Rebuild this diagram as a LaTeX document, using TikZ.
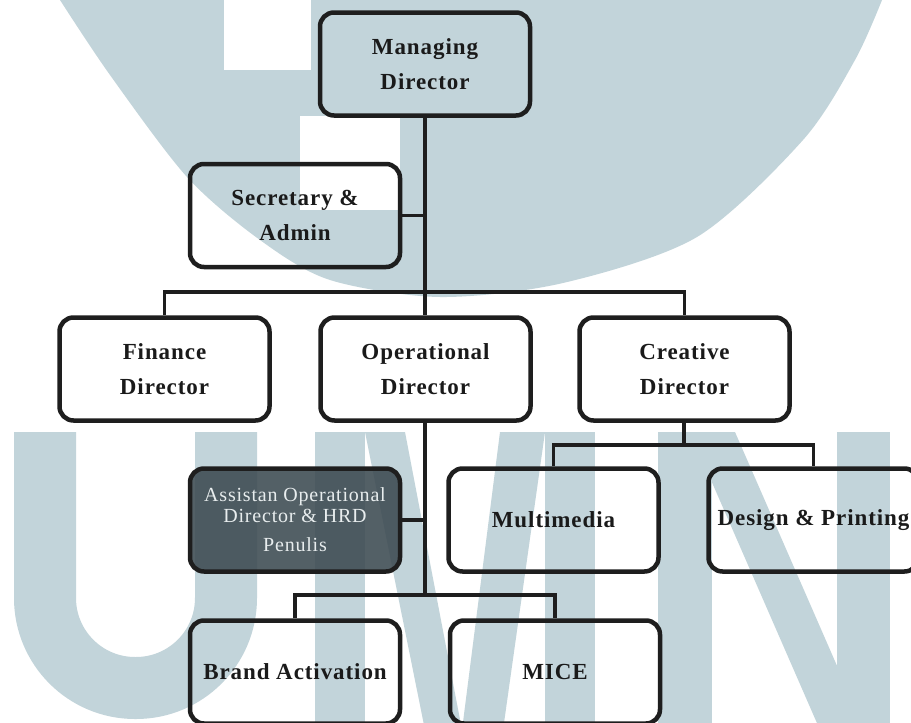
\documentclass[tikz,border=0pt]{standalone}
\usepackage{fontspec}
\setmainfont{Liberation Serif}
\newfontfamily\boxfont[LetterSpace=4]{Liberation Serif}
\definecolor{wm}{HTML}{C2D4DA}
\definecolor{boxline}{HTML}{1E1E1E}
\definecolor{textcol}{HTML}{1A1A1A}
\definecolor{asstfill}{HTML}{3C4A51}
\definecolor{assttext}{HTML}{E8EDEE}
\begin{document}
\begin{tikzpicture}[x=1pt,y=-1pt,
  box/.style={draw=boxline, line width=4.5pt, rounded corners=14pt,
    minimum width=210pt, minimum height=103pt, inner sep=0pt, align=center,
    text=textcol, font=\boxfont\bfseries\fontsize{23}{35}\selectfont},
  asstbox/.style={box, fill=asstfill, fill opacity=0.88, text opacity=1,
    text=assttext, font=\boxfont\fontsize{20}{21}\selectfont},
  conn/.style={draw=boxline, line width=3.5pt},
  mainconn/.style={draw=boxline, line width=4.5pt}]
\useasboundingbox (0,0) rectangle (911,723);
\fill[white] (0,0) rectangle (911,723);
% watermark
\fill[wm] plot[smooth] coordinates {(60,0) (110,75) (187,177) (260,240) (330,280) (440,297) (563,283) (697,237) (803,140) (855,60) (882,0)} -- cycle;
\fill[white] (224,0) rectangle (311,70);
\fill[white] (300,116) rectangle (400,210);
\draw[wm, line width=62pt, rounded corners=90pt] (45,432) -- (45,688) -- (226,688) -- (226,432);
\fill[wm] (315,432) rectangle (365,730);
\fill[wm] (365,432) -- (405,432) -- (462,730) -- (425,730) -- cycle;
\fill[wm] (500,432) -- (545,432) -- (503,730) -- (462,730) -- cycle;
\fill[wm] (545,432) rectangle (595,730);
\fill[wm] (658,432) rectangle (712,730);
\fill[wm] (690,432) -- (735,432) -- (865,730) -- (820,730) -- cycle;
\fill[wm] (837,432) rectangle (890,730);
% nodes
\node[box] (md) at (425,64) {Managing\\Director};
\node[box] (sec) at (295,215.5) {Secretary \&\\Admin};
\node[box] (fin) at (164.5,369) {Finance\\Director};
\node[box] (op) at (425.5,369) {Operational\\Director};
\node[box] (cr) at (684.5,369) {Creative\\Director};
\node[asstbox] (asst) at (295,520) {Assistan Operational\\Director \& HRD\\[8pt]Penulis};
\node[box] (mm) at (553.5,520) {Multimedia};
\node[box] (dp) at (813.5,520) {Design \& Printing};
\node[box] (ba) at (295,672) {Brand Activation};
\node[box] (mice) at (555,672) {MICE};
% junction coordinates
\coordinate (b1) at (425,292);
\coordinate (b2) at (684,445);
\coordinate (b3) at (425,595);
% connectors
\draw[mainconn] (md.south) -- (md.south |- op.north);
\draw[conn] (sec.east) -- (sec.east -| md.south);
\draw[conn] (fin.north) -- (fin.north |- b1) -- (cr.north |- b1) -- (cr.north);
\draw[mainconn] (op.south -| b3) -- (b3);
\draw[conn] (asst.east) -- (asst.east -| b3);
\draw[conn] (ba.north) -- (ba.north |- b3) -- (mice.north |- b3) -- (mice.north);
\draw[mainconn] (cr.south -| b2) -- (b2);
\draw[conn] (mm.north) -- (mm.north |- b2) -- (dp.north |- b2) -- (dp.north);
\end{tikzpicture}
\end{document}
